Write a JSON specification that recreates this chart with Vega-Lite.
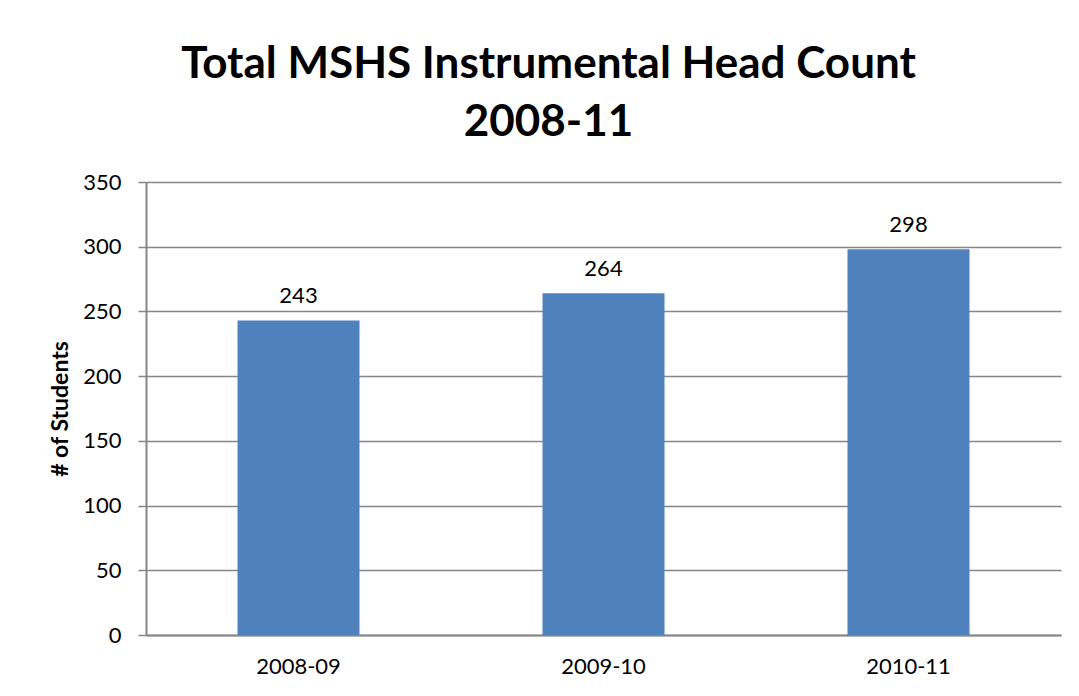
{
  "$schema": "https://vega.github.io/schema/vega-lite/v6.json",
  "autosize": {"type": "none"},
  "width": 915,
  "height": 453,
  "padding": {"left": 146, "top": 182, "right": 18, "bottom": 61},
  "background": "white",
  "title": {
    "text": ["Total MSHS Instrumental Head Count", "2008-11"],
    "font": "Lato",
    "fontSize": 44,
    "fontWeight": "bold",
    "color": "black",
    "anchor": "middle",
    "dx": -55,
    "lineHeight": 58,
    "offset": 26
  },
  "data": {
    "values": [
      {"year": "2008-09", "students": 243},
      {"year": "2009-10", "students": 264},
      {"year": "2010-11", "students": 298}
    ]
  },
  "config": {
    "view": {"stroke": null},
    "font": "Lato"
  },
  "encoding": {
    "x": {
      "field": "year",
      "type": "nominal",
      "scale": {"paddingInner": 0.6, "paddingOuter": 0.3},
      "axis": {
        "title": null,
        "labelAngle": 0,
        "labelFont": "Lato",
        "labelFontSize": 22,
        "labelColor": "black",
        "labelPadding": 21,
        "ticks": false,
        "domainColor": "#868686",
        "domainWidth": 2
      }
    },
    "y": {
      "field": "students",
      "type": "quantitative",
      "scale": {"domain": [0, 350]},
      "axis": {
        "title": "# of Students",
        "titleFont": "Lato",
        "titleFontSize": 23,
        "titleFontWeight": "bold",
        "titleColor": "black",
        "titlePadding": 10,
        "values": [0, 50, 100, 150, 200, 250, 300, 350],
        "labelFont": "Lato",
        "labelFontSize": 22,
        "labelColor": "black",
        "labelPadding": 17,
        "tickSize": 8,
        "tickColor": "#868686",
        "tickWidth": 1.5,
        "domainColor": "#868686",
        "domainWidth": 2,
        "gridColor": "#868686",
        "gridWidth": 1.5
      }
    }
  },
  "layer": [
    {"mark": {"type": "bar", "color": "#4F81BD"}},
    {
      "mark": {"type": "text", "dy": -24, "fontSize": 22, "font": "Lato", "color": "black"},
      "encoding": {"text": {"field": "students", "type": "quantitative"}}
    }
  ]
}
